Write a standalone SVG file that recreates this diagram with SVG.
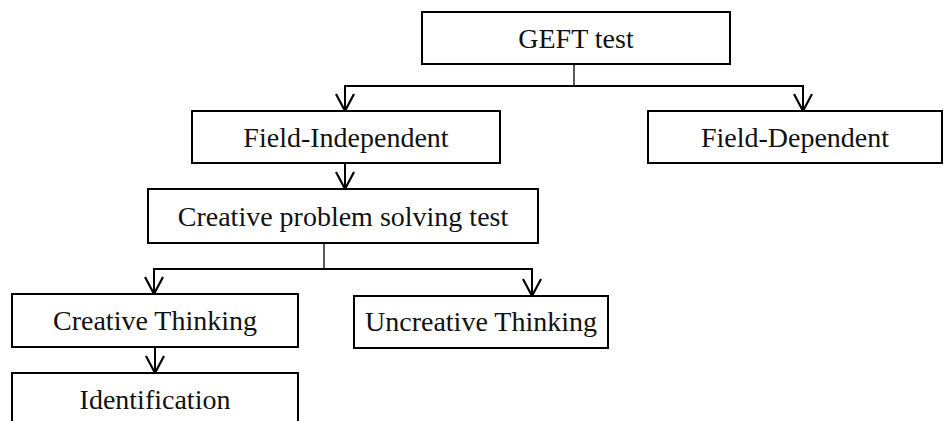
<svg xmlns="http://www.w3.org/2000/svg" width="944" height="421" viewBox="0 0 944 421">
<style>
.box{fill:#fff;stroke:#000;stroke-width:2}
.lbl{font-family:"Liberation Serif","Times New Roman",serif;font-size:28px;fill:#111;text-anchor:middle}
.c{fill:none;stroke:#000;stroke-width:2}
.thin{fill:none;stroke:#000;stroke-width:1.3}
</style>
<defs>
<marker id="v" markerUnits="userSpaceOnUse" viewBox="-20 -12 24 24" markerWidth="24" markerHeight="24" refX="0" refY="0" orient="auto" overflow="visible">
<path d="M-17,-9 L0,0 L-17,9" fill="none" stroke="#000" stroke-width="2.2"/>
</marker>
</defs>
<rect width="944" height="421" fill="#fff"/>
<g id="connectors">
<path class="thin" d="M574 64 V86"/>
<path class="c" d="M574 86 H345 V111" marker-end="url(#v)"/>
<path class="c" d="M574 86 H803 V111" marker-end="url(#v)"/>
<path class="c" d="M345 163 V189" marker-end="url(#v)"/>
<path class="thin" d="M324 243 V269"/>
<path class="c" d="M324 269 H154 V294" marker-end="url(#v)"/>
<path class="c" d="M324 269 H532 V296" marker-end="url(#v)"/>
<path class="c" d="M155 347 V373" marker-end="url(#v)"/>
</g>
<g id="gef"><rect class="box" x="422" y="12" width="308" height="52"/><text class="lbl" x="576" y="48">GEFT test</text></g>
<g id="fi"><rect class="box" x="192" y="111" width="308" height="52"/><text class="lbl" x="346" y="147">Field-Independent</text></g>
<g id="fd"><rect class="box" x="648" y="111" width="294" height="52"/><text class="lbl" x="795" y="147">Field-Dependent</text></g>
<g id="cps"><rect class="box" x="148" y="189" width="390" height="54"/><text class="lbl" x="343" y="226">Creative problem solving test</text></g>
<g id="ct"><rect class="box" x="12" y="294" width="286" height="53"/><text class="lbl" x="155" y="330">Creative Thinking</text></g>
<g id="ut"><rect class="box" x="354" y="296" width="254" height="52"/><text class="lbl" x="481" y="331">Uncreative Thinking</text></g>
<g id="id"><rect class="box" x="12" y="373" width="286" height="70"/><text class="lbl" x="155" y="409">Identification</text></g>
</svg>
